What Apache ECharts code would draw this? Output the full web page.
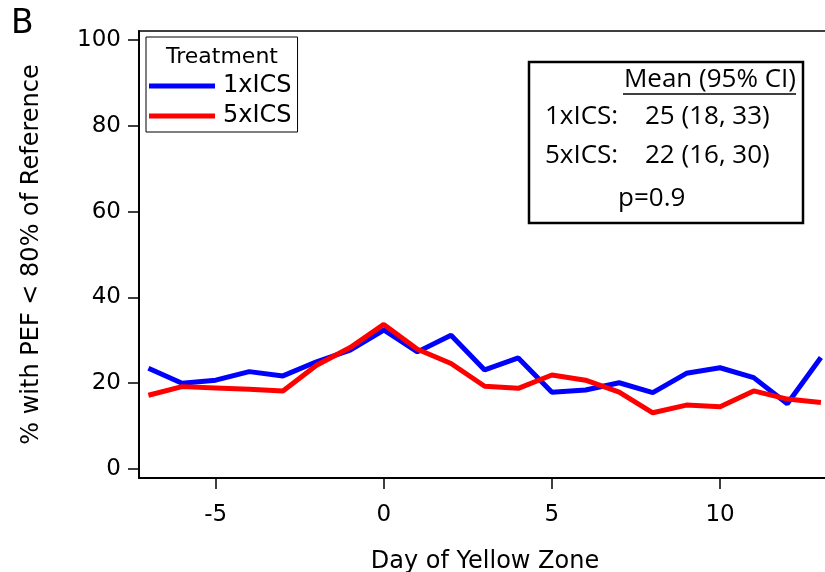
<!DOCTYPE html>
<html>
<head>
<meta charset="utf-8">
<title>PEF chart</title>
<script src="https://cdn.jsdelivr.net/npm/echarts@6/dist/echarts.min.js"></script>
<style>
  html, body { margin: 0; padding: 0; background: #fff; }
  #chart { width: 825px; height: 572px; }
</style>
</head>
<body>
<div id="chart"></div>
<script>
// days relative to start of yellow zone
const days = [-7, -6, -5, -4, -3, -2, -1, 0, 1, 2, 3, 4, 5, 6, 7, 8, 9, 10, 11, 12, 13]
const ics1 = [23.5, 20.0, 20.7, 22.7, 21.7, 25.0, 27.7, 32.4, 27.3, 31.2, 23.1, 25.9, 17.9, 18.4, 20.1, 17.8, 22.3, 23.6, 21.3, 15.2, 26.0]
const ics5 = [17.2, 19.2, 18.9, 18.6, 18.2, 24.2, 28.3, 33.7, 27.9, 24.6, 19.3, 18.8, 21.9, 20.7, 17.9, 13.1, 14.9, 14.5, 18.2, 16.3, 15.5]
const xTicks = [-5, 0, 5, 10]
const yTicks = [0, 20, 40, 60, 80, 100]

const font = 'DejaVu Sans, Liberation Sans, sans-serif'
const boxFont = 'Open Sans, Liberation Sans, sans-serif'

const chart = echarts.init(document.getElementById('chart'))

const toPairs = (vals) => days.map((d, i) => [d, vals[i]])

const option = {
  animation: false,
  grid: {
    left: 139,
    top: 31,
    right: -6,
    bottom: 94,
    outerBoundsMode: 'none',
    show: true,
    borderColor: '#000',
    borderWidth: 1.5
  },
  legend: {
    left: 146,
    top: 37,
    orient: 'vertical',
    padding: [37, 6, 4, 3],
    itemGap: 6,
    itemWidth: 66,
    itemHeight: 5,
    icon: 'rect',
    borderColor: '#000',
    borderWidth: 1,
    textStyle: { fontFamily: font, fontSize: 24, color: '#000', padding: [0, 0, 0, 3] },
    data: ['1xICS', '5xICS']
  },
  xAxis: {
    type: 'value',
    min: -7.28,
    max: 13.3,
    name: 'Day of Yellow Zone',
    nameLocation: 'middle',
    nameGap: 72,
    nameTextStyle: { fontFamily: font, fontSize: 24, color: '#000' },
    splitLine: { show: false },
    axisLine: { onZero: false, lineStyle: { color: '#000', width: 2 } },
    axisTick: { length: 11, lineStyle: { color: '#000', width: 1.5 }, customValues: xTicks },
    axisLabel: { fontFamily: font, fontSize: 23, color: '#000', margin: 26, customValues: xTicks }
  },
  yAxis: {
    type: 'value',
    min: -2.1,
    max: 102.1,
    name: '% with PEF < 80% of Reference',
    nameLocation: 'middle',
    nameGap: 95,
    nameTextStyle: { fontFamily: font, fontSize: 24, color: '#000' },
    splitLine: { show: false },
    axisLine: { show: true, onZero: false, lineStyle: { color: '#000', width: 2 } },
    axisTick: { show: true, length: 11, lineStyle: { color: '#000', width: 1.5 }, customValues: yTicks },
    axisLabel: { fontFamily: font, fontSize: 23, color: '#000', margin: 18, customValues: yTicks }
  },
  series: [
    {
      name: '1xICS',
      type: 'line',
      data: toPairs(ics1),
      showSymbol: false,
      color: '#0000ff',
      lineStyle: { width: 5, color: '#0000ff' }
    },
    {
      name: '5xICS',
      type: 'line',
      data: toPairs(ics5),
      showSymbol: false,
      color: '#ff0000',
      lineStyle: { width: 5, color: '#ff0000' }
    }
  ],
  graphic: [
    { type: 'text', left: 11, top: 8, style: { text: 'B', fontFamily: font, fontSize: 33, fill: '#000' } },
    { type: 'text', x: 222, y: 57, style: { text: 'Treatment', fontFamily: font, fontSize: 22, fill: '#000', align: 'center', verticalAlign: 'middle' } },
    // stats box
    { type: 'rect', shape: { x: 529, y: 62, width: 274, height: 161 }, style: { fill: '#fff', stroke: '#000', lineWidth: 2.5 } },
    { type: 'text', x: 796, y: 80, style: { text: 'Mean (95% CI)', fontFamily: boxFont, fontSize: 26, fill: '#000', align: 'right', verticalAlign: 'middle' } },
    { type: 'line', shape: { x1: 623, y1: 94, x2: 796, y2: 94 }, style: { stroke: '#000', lineWidth: 1.5 } },
    { type: 'text', x: 545, y: 117, style: { text: '1xICS:', fontFamily: boxFont, fontSize: 26, fill: '#000', verticalAlign: 'middle' } },
    { type: 'text', x: 645, y: 117, style: { text: '25 (18, 33)', fontFamily: boxFont, fontSize: 26, fill: '#000', verticalAlign: 'middle' } },
    { type: 'text', x: 545, y: 156, style: { text: '5xICS:', fontFamily: boxFont, fontSize: 26, fill: '#000', verticalAlign: 'middle' } },
    { type: 'text', x: 645, y: 156, style: { text: '22 (16, 30)', fontFamily: boxFont, fontSize: 26, fill: '#000', verticalAlign: 'middle' } },
    { type: 'text', x: 618, y: 199, style: { text: 'p=0.9', fontFamily: boxFont, fontSize: 26, fill: '#000', verticalAlign: 'middle' } }
  ]
}

chart.setOption(option)

window.addEventListener('resize', () => {
  chart && chart.resize()
})
</script>
</body>
</html>
